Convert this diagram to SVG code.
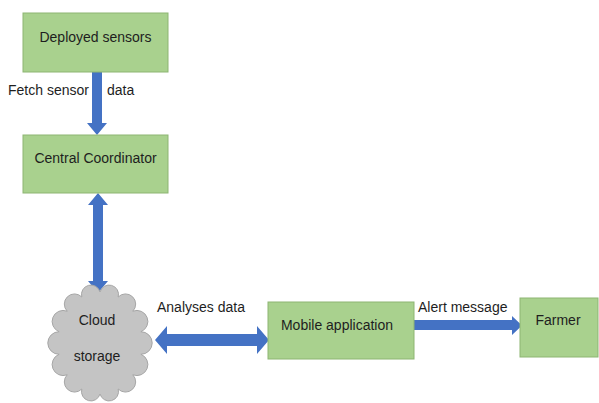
<svg xmlns="http://www.w3.org/2000/svg" width="599" height="403" viewBox="0 0 599 403">
  <style>
    .box { fill: #a9d18e; stroke: #8db573; stroke-width: 1; }
    .cloud { fill: #c4c4c4; stroke: #a6a6a6; stroke-width: 1; }
    .arrow { fill: #4472c4; stroke: none; }
    text { font-family: "Liberation Sans", Arial, sans-serif; font-size: 14px; fill: #1e1e1e; }
    .c { text-anchor: middle; }
  </style>
  <rect width="599" height="403" fill="#ffffff"/>

  <!-- connectors: block arrows -->
  <g id="connectors">
    <!-- sensors to coordinator -->
    <polygon class="arrow" points="92,72 102,72 102,123 107,123 97,135 87,123 92,123"/>
    <!-- coordinator <-> cloud -->
    <polygon class="arrow" points="98,193 108,205 103,205 103,281 108,281 98,293 88,281 93,281 93,205 88,205"/>
    <!-- cloud <-> mobile application -->
    <polygon class="arrow" points="155,340 167,326 167,334 257,334 257,326 269,340 257,354 257,346 167,346 167,354"/>
    <!-- mobile application to farmer -->
    <polygon class="arrow" points="414,320 512,320 512,316 522,325.5 512,335 512,330 414,330"/>
  </g>

  <!-- edge labels -->
  <g id="labels">
    <text x="8" y="95">Fetch sensor</text>
    <text x="107" y="95">data</text>
    <text x="157" y="312">Analyses data</text>
    <text x="418" y="312">Alert message</text>
  </g>

  <g id="deployed-sensors">
    <rect class="box" x="23" y="13" width="145" height="59"/>
    <text class="c" x="95.5" y="42">Deployed sensors</text>
  </g>

  <g id="central-coordinator">
    <rect class="box" x="23" y="135" width="145" height="58"/>
    <text class="c" x="95.5" y="163">Central Coordinator</text>
  </g>

  <g id="cloud-storage">
    <!-- bumpy outline: semicircular arcs between points on an ellipse -->
    <path class="cloud" d="M100,292
      A1,1 0 0 1 118.2,297
      A1,1 0 0 1 132.8,311.2
      A1,1 0 0 1 140.9,331.7
      A1,1 0 0 1 140.9,354.3
      A1,1 0 0 1 132.8,374.8
      A1,1 0 0 1 118.2,389
      A1,1 0 0 1 100,394
      A1,1 0 0 1 81.8,389
      A1,1 0 0 1 67.2,374.8
      A1,1 0 0 1 59.1,354.3
      A1,1 0 0 1 59.1,331.7
      A1,1 0 0 1 67.2,311.2
      A1,1 0 0 1 81.8,297
      A1,1 0 0 1 100,292 Z"/>
    <text class="c" x="97" y="325">Cloud</text>
    <text class="c" x="97" y="361">storage</text>
  </g>

  <g id="mobile-application">
    <rect class="box" x="268" y="302" width="146" height="57"/>
    <text class="c" x="337" y="330">Mobile application</text>
  </g>

  <g id="farmer">
    <rect class="box" x="520" y="298" width="78" height="59"/>
    <text class="c" x="558" y="325">Farmer</text>
  </g>
</svg>
